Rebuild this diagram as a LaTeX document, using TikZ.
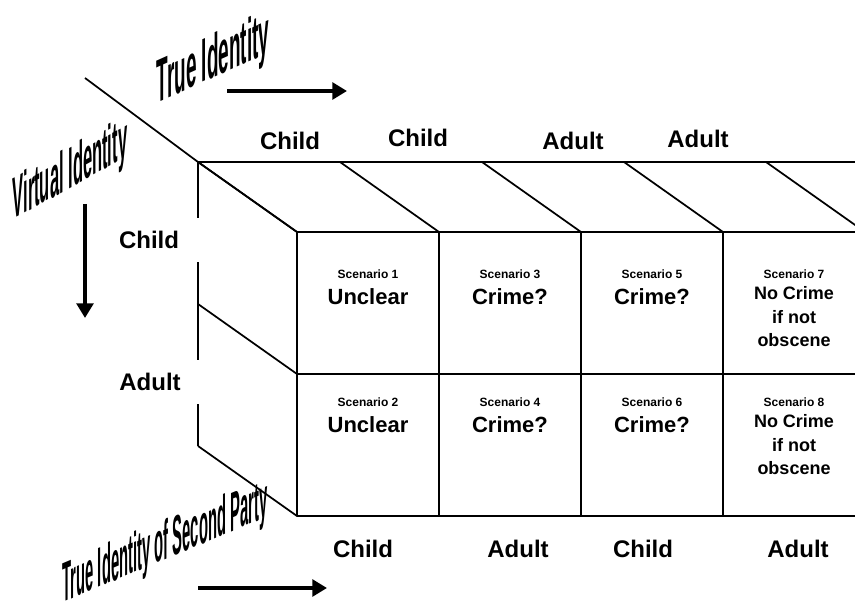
\documentclass[tikz,border=0pt]{standalone}
\usepackage{fontspec}
\setmainfont{Liberation Sans}
\usetikzlibrary{arrows.meta}
\tikzset{
  axislabel/.style={font=\bfseries\fontsize{18}{20}\selectfont, inner sep=1pt},
  sidelabel/.style={axislabel, fill=white, minimum width=78pt, minimum height=33pt},
  scenlabel/.style={font=\bfseries\fontsize{9}{10}\selectfont, inner sep=0pt},
  verdict/.style={font=\bfseries\fontsize{16.5}{18}\selectfont, inner sep=0pt},
  longverdict/.style={font=\bfseries\fontsize{13.5}{17.6}\selectfont, inner sep=0pt, align=center},
  wordart/.style={font=\bfseries\fontsize{20}{20}\selectfont, inner sep=0pt},
  bigarrow/.style={line width=3pt, -{Triangle[length=11pt,width=12.5pt]}}
}
\begin{document}
\begin{tikzpicture}[x=0.75pt, y=-0.75pt, line width=1.3pt]
  \useasboundingbox (0,0) rectangle (855,616);
  \clip (0,0) rectangle (855,616);

  % cube
  \draw (85,78) -- (198,162);
  \draw (198,162) -- (900,162);
  \draw (198,162) -- (198,446);
  \foreach \i in {0,...,4}
    \draw (198+142*\i,162) -- (297+142*\i,232) -- (297+142*\i,516);
  \foreach \j in {0,1,2}
    \draw (198,162+142*\j) -- (297,232+142*\j) -- (900,232+142*\j);

  % scenarios
  \foreach \c/\a/\b/\txt in {0/1/2/Unclear, 1/3/4/Crime?, 2/5/6/Crime?} {
    \node[scenlabel] (scen\a) at (368+142*\c,274) {Scenario \a};
    \node[verdict] (verd\a) at (368+142*\c,297) {\txt};
    \node[scenlabel] (scen\b) at (368+142*\c,402) {Scenario \b};
    \node[verdict] (verd\b) at (368+142*\c,425) {\txt};
  }
  \node[scenlabel] (scen7) at (794,274) {Scenario 7};
  \node[longverdict] (verd7) at (794,317) {No Crime\\if not\\obscene};
  \node[scenlabel] (scen8) at (794,402) {Scenario 8};
  \node[longverdict] (verd8) at (794,445) {No Crime\\if not\\obscene};

  % labels
  \node[axislabel] (topA) at (290,141) {Child};
  \node[axislabel] (topB) at (418,138) {Child};
  \node[axislabel] (topC) at (573,141) {Adult};
  \node[axislabel] (topD) at (698,139) {Adult};

  \node[sidelabel] (leftA) at (149,240) {Child};
  \node[sidelabel] (leftB) at (150,382) {Adult};

  \node[axislabel] (botA) at (363,549) {Child};
  \node[axislabel] (botB) at (518,549) {Adult};
  \node[axislabel] (botC) at (643,549) {Child};
  \node[axislabel] (botD) at (798,549) {Adult};

  \node[wordart, yslant=0.45, xscale=0.71, yscale=2.3] (trueid) at (213,62) {True Identity};
  \node[wordart, yslant=0.55, xscale=0.62, yscale=2.2] (virtid) at (70,173) {Virtual Identity};
  \node[wordart, yslant=0.42, xscale=0.555, yscale=2.1] (secid) at (165,545) {True Identity of Second Party};

  % arrows
  \coordinate (trueS) at (227,91);
  \coordinate (trueE) at (347,91);
  \coordinate (virtS) at (85,204);
  \coordinate (virtE) at (85,318);
  \coordinate (secS) at (198,588);
  \coordinate (secE) at (327,588);
  \draw[bigarrow] (trueS) -- (trueE);
  \draw[bigarrow] (virtS) -- (virtE);
  \draw[bigarrow] (secS) -- (secE);
\end{tikzpicture}
\end{document}
